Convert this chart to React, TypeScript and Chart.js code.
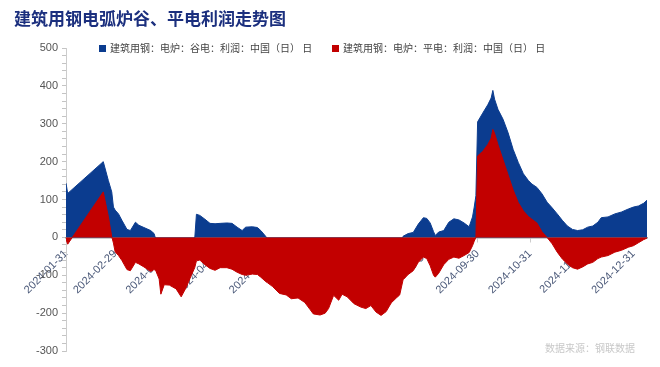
import { useEffect, useRef } from 'react';
import { Chart, registerables } from 'chart.js';

Chart.register(...registerables);

const TITLE = '建筑用钢电弧炉谷、平电利润走势图';
const SOURCE = '数据来源：钢联数据';
const seriesNames = [
  '建筑用钢：电炉：谷电：利润：中国（日） 日',
  '建筑用钢：电炉：平电：利润：中国（日） 日',
];
const seriesColors = ['#0b3c8f', '#c20000'];

const dates = [
  '2024-01-31', '2024-02-01', '2024-02-22', '2024-02-25', '2024-02-27', '2024-02-28', '2024-02-29',
  '2024-03-02', '2024-03-04', '2024-03-07', '2024-03-09', '2024-03-12', '2024-03-14', '2024-03-17',
  '2024-03-21', '2024-03-23', '2024-03-24', '2024-03-26', '2024-03-27', '2024-03-29',
  '2024-04-01', '2024-04-05', '2024-04-08', '2024-04-11', '2024-04-14', '2024-04-16', '2024-04-17',
  '2024-04-19', '2024-04-22', '2024-04-25', '2024-04-28',
  '2024-05-01', '2024-05-05', '2024-05-08', '2024-05-11', '2024-05-14', '2024-05-16', '2024-05-20',
  '2024-05-23', '2024-05-25', '2024-05-28', '2024-05-29',
  '2024-06-01', '2024-06-05', '2024-06-09', '2024-06-12', '2024-06-16', '2024-06-20', '2024-06-23',
  '2024-06-25', '2024-06-29',
  '2024-07-02', '2024-07-04', '2024-07-07', '2024-07-10', '2024-07-12', '2024-07-15', '2024-07-19',
  '2024-07-23', '2024-07-26', '2024-07-29',
  '2024-08-01', '2024-08-04', '2024-08-07', '2024-08-10', '2024-08-13', '2024-08-15', '2024-08-17',
  '2024-08-20', '2024-08-23', '2024-08-26', '2024-08-29', '2024-08-31',
  '2024-09-02', '2024-09-04', '2024-09-05', '2024-09-07', '2024-09-10', '2024-09-13', '2024-09-16',
  '2024-09-19', '2024-09-22', '2024-09-25', '2024-09-27', '2024-09-28', '2024-09-29', '2024-09-30',
  '2024-10-03', '2024-10-06', '2024-10-08', '2024-10-09', '2024-10-10', '2024-10-12', '2024-10-15',
  '2024-10-18', '2024-10-21', '2024-10-24', '2024-10-27', '2024-10-30',
  '2024-11-01', '2024-11-04', '2024-11-07', '2024-11-10', '2024-11-13', '2024-11-16', '2024-11-19',
  '2024-11-22', '2024-11-25', '2024-11-28',
  '2024-12-01', '2024-12-04', '2024-12-07', '2024-12-10', '2024-12-12', '2024-12-16', '2024-12-20',
  '2024-12-24', '2024-12-28', '2024-12-31',
  '2025-01-03', '2025-01-06', '2025-01-08',
];

// 谷电利润
const valleyProfit = [
  143, 116, 200, 150, 120, 80, 72,
  62, 45, 21, 18, 40, 32, 26,
  18, 10, -5, -8, -40, -20,
  -20, -30, -45, -25, -5, -3, 61,
  58, 48, 37, 36,
  37, 38, 37, 27, 18, 27, 28,
  26, 18, 2, -10,
  -20, -38, -42, -52, -50, -62, -80,
  -92, -95,
  -90, -78, -43, -56, -40, -47, -65,
  -74, -78, -70,
  -87, -96, -86, -63, -50, -42, 3,
  10, 13, 35, 52, 50,
  38, 15, 5, 14, 18, 40, 49,
  46, 38, 28, 54, 80, 110, 305,
  328, 350, 368, 388, 365, 338, 312,
  276, 232, 198, 168, 150,
  141, 132, 115, 93, 78, 62, 45,
  30, 21, 18,
  20, 27, 30, 40, 52, 54, 62,
  67, 75, 80,
  83, 90, 98,
];

// 平电利润
const flatProfit = [
  -5, -18, 120, 55, 2, -15, -38,
  -48, -61, -85, -88, -66, -70, -78,
  -90, -85, -88, -110, -150, -125,
  -126, -136, -157, -132, -100, -80, -62,
  -60, -72, -82, -87,
  -80, -80, -84, -92, -98, -100, -97,
  -98, -105, -117, -120,
  -130, -148, -152, -162, -160, -172, -190,
  -202, -205,
  -200, -188, -153, -166, -150, -157, -175,
  -184, -188, -180,
  -197, -206, -196, -173, -160, -152, -112,
  -98, -88, -66, -52, -56,
  -75, -100, -105, -95, -72, -58, -52,
  -55, -48, -40, -22, -10, 0, 215,
  227, 245, 262, 285, 275, 245, 205,
  165, 125, 92, 70, 55,
  48, 38, 15, 0, -17, -39, -57,
  -70, -80, -84,
  -78, -70, -66, -56, -52, -48, -39,
  -34, -26, -22,
  -14, -6, -2,
];

const tickDates = [
  '2024-01-31', '2024-02-29', '2024-03-31', '2024-04-30', '2024-05-31', '2024-06-30',
  '2024-07-31', '2024-08-31', '2024-09-30', '2024-10-31', '2024-11-30', '2024-12-31',
];

const Y_MIN = -300;
const Y_MAX = 500;
const Y_MINOR_STEP = 20;
const Y_LABEL_STEP = 100;

const BASE = Date.UTC(2024, 0, 31);
function dayOf(s: string): number {
  const [y, m, d] = s.split('-').map(Number);
  return Math.round((Date.UTC(y, m - 1, d) - BASE) / 86400000);
}

const overlayPlugin = {
  id: 'overlay',
  afterDraw(chart: any) {
    const ctx = chart.ctx as CanvasRenderingContext2D;
    ctx.save();
    // title
    ctx.fillStyle = '#1b2f7e';
    ctx.font = 'bold 17px "Noto Sans CJK SC", sans-serif';
    ctx.textAlign = 'left';
    ctx.textBaseline = 'middle';
    ctx.fillText(TITLE, 14, 19);
    // legend
    ctx.font = '10px "Noto Sans CJK SC", sans-serif';
    const starts = [99, 332];
    seriesNames.forEach((name, i) => {
      const x = starts[i];
      ctx.fillStyle = seriesColors[i];
      ctx.fillRect(x, 45, 7, 7);
      ctx.fillStyle = '#444';
      ctx.fillText(name, x + 11, 48.5);
    });
    // source
    ctx.fillStyle = '#c8c8c8';
    ctx.font = '10px "Noto Sans CJK SC", sans-serif';
    ctx.fillText(SOURCE, 545, 348);
    ctx.restore();
  },
};

export default function App() {
  const ref = useRef<HTMLCanvasElement | null>(null);
  useEffect(() => {
    if (!ref.current) return;
    const xs = dates.map(dayOf);
    const chart = new Chart(ref.current, {
      type: 'line',
      data: {
        labels: xs,
        datasets: [
          {
            label: seriesNames[0],
            data: valleyProfit,
            borderColor: seriesColors[0],
            backgroundColor: seriesColors[0],
            borderWidth: 1,
            pointRadius: 0,
            fill: 'origin',
            tension: 0,
            order: 1,
          },
          {
            label: seriesNames[1],
            data: flatProfit,
            borderColor: seriesColors[1],
            backgroundColor: seriesColors[1],
            borderWidth: 1,
            pointRadius: 0,
            fill: 'origin',
            tension: 0,
            order: 0,
          },
        ],
      },
      options: {
        animation: false,
        responsive: false,
        devicePixelRatio: 1,
        layout: { padding: { top: 48, bottom: 16, right: 13, left: 0 } },
        plugins: {
          legend: { display: false },
          title: { display: false },
          tooltip: { enabled: false },
        },
        scales: {
          x: {
            type: 'linear',
            position: { y: 0 } as any,
            min: 0,
            max: xs[xs.length - 1],
            afterBuildTicks: (scale: any) => {
              scale.ticks = tickDates.map((d) => ({ value: dayOf(d) }));
            },
            ticks: {
              autoSkip: false,
              minRotation: 45,
              maxRotation: 45,
              padding: 6,
              color: '#4a5878',
              font: { size: 11, family: '"Liberation Sans", Arial, sans-serif' },
              callback: (_v: any, i: number) => tickDates[i],
            },
            grid: { drawOnChartArea: false, drawTicks: true, tickLength: 4, color: '#cccccc' },
            border: { display: true, color: '#9a9a9a', width: 1.5 },
          },
          y: {
            type: 'linear',
            min: Y_MIN,
            max: Y_MAX,
            afterFit: (scale: any) => {
              scale.width = 66;
            },
            ticks: {
              stepSize: Y_MINOR_STEP,
              autoSkip: false,
              padding: 4,
              color: '#555',
              font: { size: 11, family: '"Liberation Sans", Arial, sans-serif' },
              callback: (v: any) => (Number(v) % Y_LABEL_STEP === 0 ? String(v) : ''),
            },
            grid: { drawOnChartArea: false, drawTicks: true, tickLength: 4, color: '#c4c4c4' },
            border: { display: true, color: '#cccccc', width: 1 },
          },
        },
      },
      plugins: [overlayPlugin],
    });
    return () => chart.destroy();
  }, []);
  return (
    <div style={{ position: 'absolute', left: 0, top: 0, width: 660, height: 367 }}>
      <canvas ref={ref} width={660} height={367} style={{ width: 660, height: 367 }} />
    </div>
  );
}
